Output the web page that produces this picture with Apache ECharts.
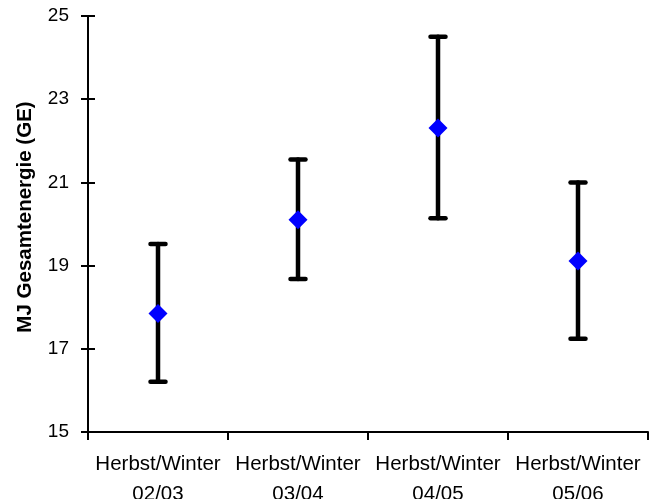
<!DOCTYPE html>
<html><head><meta charset="utf-8">
<script src="https://cdn.jsdelivr.net/npm/echarts@6/dist/echarts.min.js"></script>
<style>html,body{margin:0;padding:0;background:#fff}#c{width:660px;height:499px}</style>
</head><body><div id="c"></div>
<script>
var categories = ['Herbst/Winter\n02/03', 'Herbst/Winter\n03/04', 'Herbst/Winter\n04/05', 'Herbst/Winter\n05/06'];
var means = [17.85, 20.10, 22.31, 19.11];
var lows = [16.21, 18.68, 20.14, 17.24];
var highs = [19.52, 21.55, 24.50, 21.00];
var yTicks = [15, 17, 19, 21, 23, 25];

var errData = categories.map(function (c, i) { return [i, lows[i], highs[i]]; });
var chart = echarts.init(document.getElementById('c'));
var font = 'Liberation Sans, Arial, sans-serif';
chart.setOption({
  animation: false,
  grid: { left: 88, right: 12, top: 16, bottom: 67, containLabel: false, outerBoundsMode: 'none' },
  xAxis: {
    type: 'category', data: categories, boundaryGap: true,
    axisLine: { lineStyle: { color: '#000', width: 2 } },
    axisTick: { show: true, length: 8, lineStyle: { color: '#000', width: 2 } },
    axisLabel: { color: '#000', fontSize: 20.5, fontFamily: font, lineHeight: 30, margin: 17, interval: 0, hideOverlap: false },
    splitLine: { show: false }
  },
  yAxis: [{
    type: 'value', min: yTicks[0], max: yTicks[yTicks.length - 1], interval: 2,
    name: 'MJ Gesamtenergie (GE)', nameLocation: 'middle', nameGap: 52,
    nameTextStyle: { color: '#000', fontSize: 20.5, fontWeight: 'bold', fontFamily: font, padding: [0, 0, 0, 14] },
    axisLine: { show: true, lineStyle: { color: '#000', width: 2 } },
    axisTick: { show: true, length: 7, lineStyle: { color: '#000', width: 2 } },
    axisLabel: { color: '#000', fontSize: 19, fontFamily: font, margin: 19 },
    splitLine: { show: false }
  }, {
    type: 'value', min: yTicks[0], max: yTicks[yTicks.length - 1], interval: 2, position: 'left',
    axisLine: { show: false },
    axisTick: { show: true, inside: true, length: 7, lineStyle: { color: '#000', width: 2 } },
    axisLabel: { show: false }, splitLine: { show: false }
  }],
  series: [{
    type: 'custom',
    data: errData,
    renderItem: function (params, api) {
      var x = api.value(0);
      var lo = api.coord([x, api.value(1)]);
      var hi = api.coord([x, api.value(2)]);
      var hw = 7.5;
      var st = { stroke: '#000', lineWidth: 4.5, lineCap: 'round' };
      return {
        type: 'group', children: [
          { type: 'line', shape: { x1: lo[0], y1: lo[1], x2: hi[0], y2: hi[1] }, style: st },
          { type: 'line', shape: { x1: lo[0] - hw, y1: lo[1], x2: lo[0] + hw, y2: lo[1] }, style: st },
          { type: 'line', shape: { x1: hi[0] - hw, y1: hi[1], x2: hi[0] + hw, y2: hi[1] }, style: st }
        ]
      };
    },
    z: 2
  }, {
    type: 'scatter', data: means, symbol: 'diamond', symbolSize: [19, 19],
    itemStyle: { color: '#0000ff', opacity: 1 }, z: 3
  }]
});
</script></body></html>
